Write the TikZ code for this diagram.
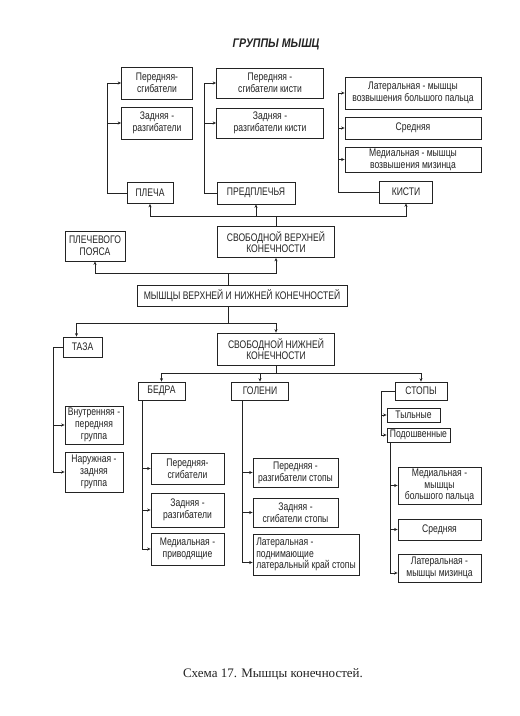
\documentclass[tikz,border=0pt]{standalone}
\usepackage{fontspec}
\setmainfont{Liberation Serif}
\newfontfamily\boxfont[FakeStretch=0.78]{Liberation Sans}
\newfontfamily\headfont[FakeStretch=0.85]{Liberation Sans}
\usetikzlibrary{arrows.meta,positioning}
\definecolor{inkcolor}{RGB}{35,35,35}
\tikzset{
  boxst/.style={draw=inkcolor, line width=0.8pt, text=inkcolor, align=center, inner sep=1pt,
    font=\boxfont\fontsize{11}{11.8}\selectfont},
  wh/.style 2 args={minimum width=#1pt, minimum height=#2pt},
  linkln/.style={-{Stealth[length=3.4pt,width=3pt]}, line width=0.8pt, inkcolor},
}

\begin{document}
\begin{tikzpicture}[x=1pt,y=-1pt]
    \useasboundingbox (0,0) rectangle (520,716);
    \fill[white] (0,0) rectangle (520,716);
    % title
    \node[font=\headfont\bfseries\itshape\fontsize{12.5}{14}\selectfont, text=inkcolor] (title) at (276,44) {ГРУППЫ МЫШЦ};
    % shoulder
    \node[boxst, wh={71}{32}] (pl1) at (157,83) {Передняя-\\сгибатели};
    \node[boxst, wh={71}{32}] (pl2) at (157,123) {Задняя -\\разгибатели};
    \node[boxst, wh={46}{21}] (plecha) at (150,193) {ПЛЕЧА};
    \draw[linkln] (plecha.west) -- ++(-19,0) |- (pl1.west);
    \draw[linkln] (plecha.west) -- ++(-19,0) |- (pl2.west);
    % forearm
    \node[boxst, wh={107}{30}] (pp1) at (270,83) {Передняя -\\сгибатели кисти};
    \node[boxst, wh={107}{30}] (pp2) at (270,123) {Задняя -\\разгибатели кисти};
    \node[boxst, wh={78}{22}] (predpl) at (256,193) {ПРЕДПЛЕЧЬЯ};
    \draw[linkln] (predpl.west) -- ++(-12,0) |- (pp1.west);
    \draw[linkln] (predpl.west) -- ++(-12,0) |- (pp2.west);
    % hand
    \node[boxst, wh={136}{32}] (k1) at (413,93) {Латеральная - мышцы\\возвышения большого пальца};
    \node[boxst, wh={136}{22}] (k2) at (413,128) {Средняя};
    \node[boxst, wh={136}{25}] (k3) at (413,159.5) {Медиальная - мышцы\\возвышения мизинца};
    \node[boxst, wh={53}{22}] (kisti) at (406,192) {КИСТИ};
    \draw[linkln] (kisti.west) -- ++(-41,0) |- (k1.west);
    \draw[linkln] (kisti.west) -- ++(-41,0) |- (k2.west);
    \draw[linkln] (kisti.west) -- ++(-41,0) |- (k3.west);
    % free upper limb
    \node[boxst, wh={117}{31}] (svv) at (276,242) {СВОБОДНОЙ ВЕРХНЕЙ\\КОНЕЧНОСТИ};
    \draw[linkln] (svv.north) -- ++(0,-10) -| (plecha.south);
    \draw[linkln] (svv.north) -- ++(0,-10) -| (predpl.south);
    \draw[linkln] (svv.north) -- ++(0,-10) -| (kisti.south);
    \node[boxst, wh={60}{30}] (ppoyas) at (95,246) {ПЛЕЧЕВОГО\\ПОЯСА};
    % root
    \node[boxst, wh={210}{21}] (muscles) at (242,296) {МЫШЦЫ ВЕРХНЕЙ И НИЖНЕЙ КОНЕЧНОСТЕЙ};
    \draw[linkln] ([xshift=-14pt]muscles.north) -- ++(0,-12) -| (ppoyas.south);
    \draw[linkln] ([xshift=-14pt]muscles.north) -- ++(0,-12) -| (svv.south);
    % pelvis
    \node[boxst, wh={39}{20}] (taza) at (82.5,347) {ТАЗА};
    \node[boxst, wh={58}{38}] (vn) at (94,425) {Внутренняя -\\передняя\\группа};
    \node[boxst, wh={58}{40}] (nar) at (94,472) {Наружная -\\задняя\\группа};
    \draw[linkln] (taza.west) -- ++(-9,0) |- (vn.west);
    \draw[linkln] (taza.west) -- ++(-9,0) |- (nar.west);
    % free lower limb
    \node[boxst, wh={117}{32}] (svn) at (276,349) {СВОБОДНОЙ НИЖНЕЙ\\КОНЕЧНОСТИ};
    \draw[linkln] ([xshift=-14pt]muscles.south) -- ++(0,16) -| ([xshift=-6pt]taza.north);
    \draw[linkln] ([xshift=-14pt]muscles.south) -- ++(0,16) -| (svn.north);
    \node[boxst, wh={47}{18}] (bedra) at (161.5,391) {БЕДРА};
    \node[boxst, wh={57}{18}] (goleni) at (260,391) {ГОЛЕНИ};
    \node[boxst, wh={52}{18}] (stopy) at (421,391) {СТОПЫ};
    \draw[linkln] (svn.south) -- ++(0,8) -| (bedra.north);
    \draw[linkln] (svn.south) -- ++(0,8) -| (goleni.north);
    \draw[linkln] (svn.south) -- ++(0,8) -| (stopy.north);
    % thigh
    \node[boxst, wh={73}{31}] (b1) at (187.5,468.5) {Передняя-\\сгибатели};
    \node[boxst, wh={73}{34}] (b2) at (187.5,510) {Задняя -\\разгибатели};
    \node[boxst, wh={73}{32}] (b3) at (187.5,549) {Медиальная -\\приводящие};
    \draw[linkln] ([xshift=5pt]bedra.south west) |- (b1.west);
    \draw[linkln] ([xshift=5pt]bedra.south west) |- (b2.west);
    \draw[linkln] ([xshift=5pt]bedra.south west) |- (b3.west);
    % shin
    \node[boxst, wh={85}{29}] (g1) at (295.5,472.5) {Передняя -\\разгибатели стопы};
    \node[boxst, wh={85}{29}] (g2) at (295.5,512.5) {Задняя -\\сгибатели стопы};
    \node[boxst, wh={106}{41}, align=left] (g3) at (306,554.5) {Латеральная -\\поднимающие\\латеральный край стопы};
    \draw[linkln] ([xshift=11pt]goleni.south west) |- (g1.west);
    \draw[linkln] ([xshift=11pt]goleni.south west) |- (g2.west);
    \draw[linkln] ([xshift=11pt]goleni.south west) |- ([yshift=-8pt]g3.west);
    % foot
    \node[boxst, wh={53}{14}] (tyl) at (413.5,415) {Тыльные};
    \node[boxst, wh={63}{14}] (podosh) at (418.5,435) {Подошвенные};
    \draw[linkln] (stopy.west) -- ++(-13,0) |- (tyl.west);
    \draw[linkln] (stopy.west) -- ++(-13,0) |- (podosh.west);
    \node[boxst, wh={83}{37}] (s1) at (439.5,485.5) {Медиальная -\\мышцы\\большого пальца};
    \node[boxst, wh={83}{21}] (s2) at (439.5,529.5) {Средняя};
    \node[boxst, wh={83}{28}] (s3) at (439.5,568) {Латеральная -\\мышцы мизинца};
    \draw[linkln] ([xshift=4pt]podosh.south west) |- (s1.west);
    \draw[linkln] ([xshift=4pt]podosh.south west) |- (s2.west);
    \draw[linkln] ([xshift=4pt]podosh.south west) |- ([yshift=-5pt]s3.west);
    % caption
    \node[font=\fontsize{13}{15}\selectfont, text=inkcolor] (caption) at (273,674) {Схема 17. Мышцы конечностей.};
\end{tikzpicture}
\end{document}
